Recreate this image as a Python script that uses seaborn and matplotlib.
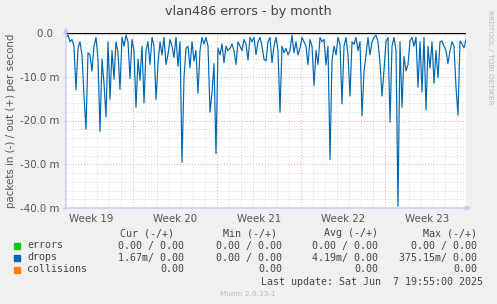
import matplotlib
matplotlib.use("Agg")
import matplotlib.pyplot as plt
import matplotlib.dates as mdates
import seaborn as sns
import pandas as pd
import numpy as np

# ---------------- data ----------------
TITLE = "vlan486 errors - by month"
YLABEL = "packets in (-) / out (+) per second"
SIDE_TEXT = "RRDTOOL / TOBI OETIKER"
FOOTER = "Munin 2.0.33-1"
LAST_UPDATE = "Last update: Sat Jun  7 19:55:00 2025"

START = "2025-05-05 10:00"
STEP = "4h"
END = "2025-06-07 18:00"

# drops, inbound (plotted negative), in milli-packets per second
drops_in = [
    -1.0, -0.5, -2.0, -1.5, -3.0, -13.0, -3.5, -2.0, -5.0, -14.4,
    -22.0, -4.5, -5.0, -8.7, -3.0, -1.0, -6.0, -22.5, -6.0, -11.4,
    -19.2, -2.0, -15.1, -4.0, -10.6, -2.0, -4.5, -12.9, -1.0, -3.0,
    -0.5, -2.0, -10.4, -1.5, -4.0, -17.0, -6.0, -10.8, -3.0, -16.0,
    -4.0, -2.0, -7.2, -1.0, -3.0, -15.2, -7.0, -2.0, -5.0, -1.0,
    -7.2, -4.9, -1.5, -3.0, -5.6, -1.0, -7.6, -2.0, -29.6, -10.2,
    -3.5, -3.0, -8.0, -2.0, -6.4, -4.0, -13.8, -4.0, -1.0, -2.5,
    -1.0, -3.0, -18.1, -13.7, -7.0, -27.6, -3.5, -5.0, -2.5, -6.8,
    -3.0, -4.0, -3.5, -2.5, -4.0, -7.2, -2.0, -3.0, -4.0, -1.5,
    -2.5, -6.2, -1.0, -2.0, -1.0, -4.9, -2.0, -1.0, -3.0, -6.0,
    -6.4, -2.0, -1.0, -6.8, -3.0, -1.0, -4.0, -18.1, -3.0, -4.5,
    -3.5, -5.0, -4.0, -0.5, -4.5, -2.0, -5.0, -3.5, -1.0, -2.0,
    -3.0, -7.2, -1.5, -3.0, -12.0, -4.0, -7.2, -1.0, -2.0, -1.5,
    -7.3, -3.0, -28.9, -6.4, -3.0, -5.0, -1.0, -2.5, -16.2, -3.0,
    -1.0, -5.0, -14.4, -2.0, -2.6, -1.0, -4.0, -2.0, -18.9, -8.9,
    -5.0, -1.0, -5.0, -2.0, -1.0, -0.5, -2.0, -6.8, -14.4, -8.5,
    -2.0, -1.0, -20.4, -3.0, -1.0, -4.0, -39.6, -2.0, -17.0, -5.3,
    -8.7, -7.2, -1.8, -1.0, -3.0, -1.0, -12.4, -2.0, -13.5, -1.0,
    -17.6, -3.0, -8.0, -2.0, -11.5, -4.0, -10.2, -2.0, -1.8, -3.0,
    -4.0, -7.0, -4.0, -2.0, -3.0, -12.4, -18.8, -1.8, -2.5, -3.4,
    -1.5,
]

week_labels = ["Week 19", "Week 20", "Week 21", "Week 22", "Week 23"]
week_label_times = ["2025-05-07 12:00", "2025-05-14 12:00", "2025-05-21 12:00",
                    "2025-05-28 12:00", "2025-06-04 12:00"]
week_starts = ["2025-05-11", "2025-05-18", "2025-05-25", "2025-06-01"]

y_ticks = [0, -10, -20, -30, -40]
y_tick_labels = ["0.0  ", "-10.0 m", "-20.0 m", "-30.0 m", "-40.0 m"]

legend_names = ["errors", "drops", "collisions"]
legend_colors = ["#00CC00", "#0066B3", "#FF8000"]
col_headers = ["Cur (-/+)", "Min (-/+)", "Avg (-/+)", "Max (-/+)"]
cur_vals = ["0.00 / 0.00", "1.67m/ 0.00", "0.00"]
min_vals = ["0.00 / 0.00", "0.00 / 0.00", "0.00"]
avg_vals = ["0.00 / 0.00", "4.19m/ 0.00", "0.00"]
max_vals = ["0.00 / 0.00", "375.15m/ 0.00", "0.00"]

# ---------------- figure ----------------
W, H = 497, 304
BG = "#F0F0F0"
TXT = "#555555"
AXC = "#C8C8F0"

fig = plt.figure(figsize=(W / 100, H / 100), dpi=100, facecolor=BG)
L, R, T, B = 66, 466, 33, 208
ax = fig.add_axes([L / W, 1 - B / H, (R - L) / W, (B - T) / H])
ax.set_facecolor("white")

times = pd.date_range(START, periods=len(drops_in), freq=STEP)
df = pd.DataFrame({"time": times, "drops": drops_in})

t0, t1 = pd.Timestamp(START), pd.Timestamp(END)
ax.set_xlim(t0, t1)
ax.set_ylim(-40, 0)

# grid
dots = (0, (1, 2))
days = pd.date_range("2025-05-06", "2025-06-07", freq="D")
for d in days:
    if d.dayofweek != 6:
        ax.axvline(d, color="#D8D8D8", lw=0.7, ls=dots, zorder=1)
for v in np.arange(-38, 0, 2):
    if v % 10 != 0:
        ax.axhline(v, color="#D8D8D8", lw=0.7, ls=dots, zorder=1)
for w in week_starts:
    ax.axvline(pd.Timestamp(w), color="#F4A0A0", lw=0.7, ls=dots, zorder=1.5)
for v in y_ticks[1:-1]:
    ax.axhline(v, color="#F4A0A0", lw=0.7, ls=dots, zorder=1.5)

sns.lineplot(data=df, x="time", y="drops", ax=ax, color="#0066B3",
             linewidth=0.85, zorder=3, legend=False)
ax.axhline(0, color="black", lw=1.0, zorder=4)

ax.set_xlabel("")
ax.set_ylabel("")
for s in ["top", "right", "left", "bottom"]:
    ax.spines[s].set_visible(False)

ax.set_yticks(y_ticks)
ax.set_yticklabels(y_tick_labels)
ax.set_xticks([pd.Timestamp(t) for t in week_label_times])
ax.set_xticklabels(week_labels)
ax.tick_params(axis="x", length=0, pad=4, labelsize=7.4, colors=TXT)
ax.tick_params(axis="y", length=2, pad=3, labelsize=7.4, colors=TXT, color=AXC)

# axes with arrows
ax.annotate("", xy=(0, 1 + 6 / (B - T)), xytext=(0, -1 / (B - T)),
            xycoords="axes fraction",
            arrowprops=dict(arrowstyle="-|>", color=AXC, lw=1, mutation_scale=7,
                            shrinkA=0, shrinkB=0), zorder=5)
ax.annotate("", xy=(1 + 5 / (R - L), 0), xytext=(-2 / (R - L), 0),
            xycoords="axes fraction",
            arrowprops=dict(arrowstyle="-|>", color=AXC, lw=1, mutation_scale=7,
                            shrinkA=0, shrinkB=0), zorder=5)

# texts
def fx(x):
    return x / W

def fy(y):
    return 1 - y / H

fig.text(fx(248), fy(12), TITLE, ha="center", va="center", fontsize=9.2, color="#444444")
fig.text(fx(11), fy(121), YLABEL, ha="center", va="center", rotation=90,
         fontsize=7.4, color=TXT)
fig.text(fx(490), fy(57), SIDE_TEXT, ha="center", va="center", rotation=270,
         fontsize=5.3, color="#BBBBBB")

mono = dict(family="DejaVu Sans Mono", fontsize=7.2, color="#444444")
col_right = [174, 277, 378, 477]
val_right = [184, 282, 378, 477]
for h, xr in zip(col_headers, col_right):
    fig.text(fx(xr), fy(233), h, ha="right", va="center", **mono)

row_y = [245.5, 257.5, 269.5]
for i, (name, c) in enumerate(zip(legend_names, legend_colors)):
    y = row_y[i]
    fig.patches.append(plt.Rectangle((fx(14), fy(y + 3)), 6 / W, 6 / H,
                                     transform=fig.transFigure, color=c, figure=fig))
    fig.text(fx(27), fy(y), name, ha="left", va="center", **mono)
    for vals, xr in zip([cur_vals, min_vals, avg_vals, max_vals], val_right):
        fig.text(fx(xr), fy(y), vals[i], ha="right", va="center", **mono)

fig.text(fx(483), fy(282), LAST_UPDATE, ha="right", va="center", **mono)
fig.text(fx(248), fy(294), FOOTER, ha="center", va="center", fontsize=5.3, color="#BBBBBB")

fig.savefig("out.png", dpi=100, facecolor=BG)
